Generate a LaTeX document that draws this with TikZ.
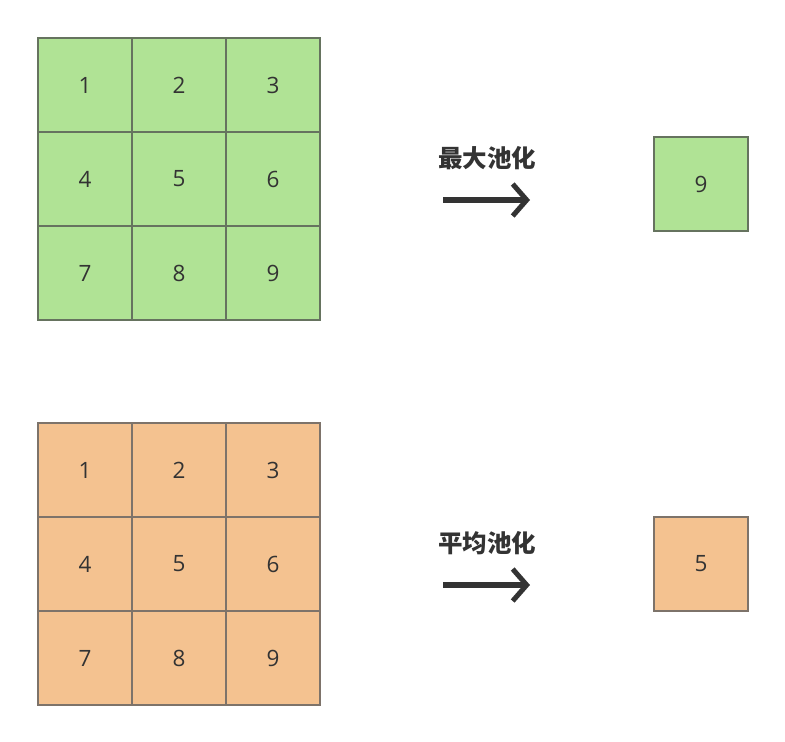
\documentclass[tikz,border=0pt]{standalone}
\usepackage{fontspec}
\setmainfont{Open Sans}
\newfontfamily\cjk{Noto Sans CJK SC}
\usetikzlibrary{arrows.meta}

\definecolor{poolgreen}{HTML}{B0E395}
\definecolor{poolorange}{HTML}{F4C290}
\definecolor{greenedge}{HTML}{66735F}
\definecolor{orangeedge}{HTML}{7D736A}
\definecolor{ink}{HTML}{333333}

\tikzset{
  cellg/.style={fill=poolgreen, minimum size=94pt, inner sep=0pt, outer sep=0pt, font=\fontsize{22.5}{24}\selectfont, text=ink},
  cello/.style={fill=poolorange, minimum size=94pt, inner sep=0pt, outer sep=0pt, font=\fontsize{22.5}{24}\selectfont, text=ink},
  edgeg/.style={draw=greenedge, line width=2pt},
  edgeo/.style={draw=orangeedge, line width=2pt},
  poolarrow/.style={draw=ink, line width=6pt, -{Straight Barb[length=14pt, width=32pt, line width=5pt]}},
  poollabel/.style={font=\cjk\bfseries\fontsize{24.5}{26}\selectfont, text=ink}
}

\begin{document}
\begin{tikzpicture}[x=1pt, y=-1pt]
    \useasboundingbox (0,0) rectangle (785,742);

    % input grids
    \foreach \r in {0,1,2}
      \foreach \c in {0,1,2}{
        \pgfmathtruncatemacro{\n}{3*\r+\c+1}
        \node[cellg] (g\n) at (85+94*\c, 85+94*\r) {\n};
        \node[cello] (o\n) at (85+94*\c, 470+94*\r) {\n};
      }
    \foreach \n in {1,...,9}{
        \draw[edgeg] (g\n.north west) rectangle (g\n.south east);
        \draw[edgeo] (o\n.north west) rectangle (o\n.south east);
    }

    % results
    \node[cellg] (gmax) at (701, 184) {9};
    \node[cello] (oavg) at (701, 564) {5};
    \draw[edgeg] (gmax.north west) rectangle (gmax.south east);
    \draw[edgeo] (oavg.north west) rectangle (oavg.south east);

    \node[poollabel] (lmax) at (487, 158) {最大池化};
    \node[poollabel] (lavg) at (487, 543) {平均池化};

    \coordinate (amax1) at (443, 200);
    \coordinate (amax2) at (530, 200);
    \coordinate (aavg1) at (443, 585);
    \coordinate (aavg2) at (530, 585);

    \draw[poolarrow] (amax1) -- (amax2);
    \draw[poolarrow] (aavg1) -- (aavg2);
\end{tikzpicture}
\end{document}
